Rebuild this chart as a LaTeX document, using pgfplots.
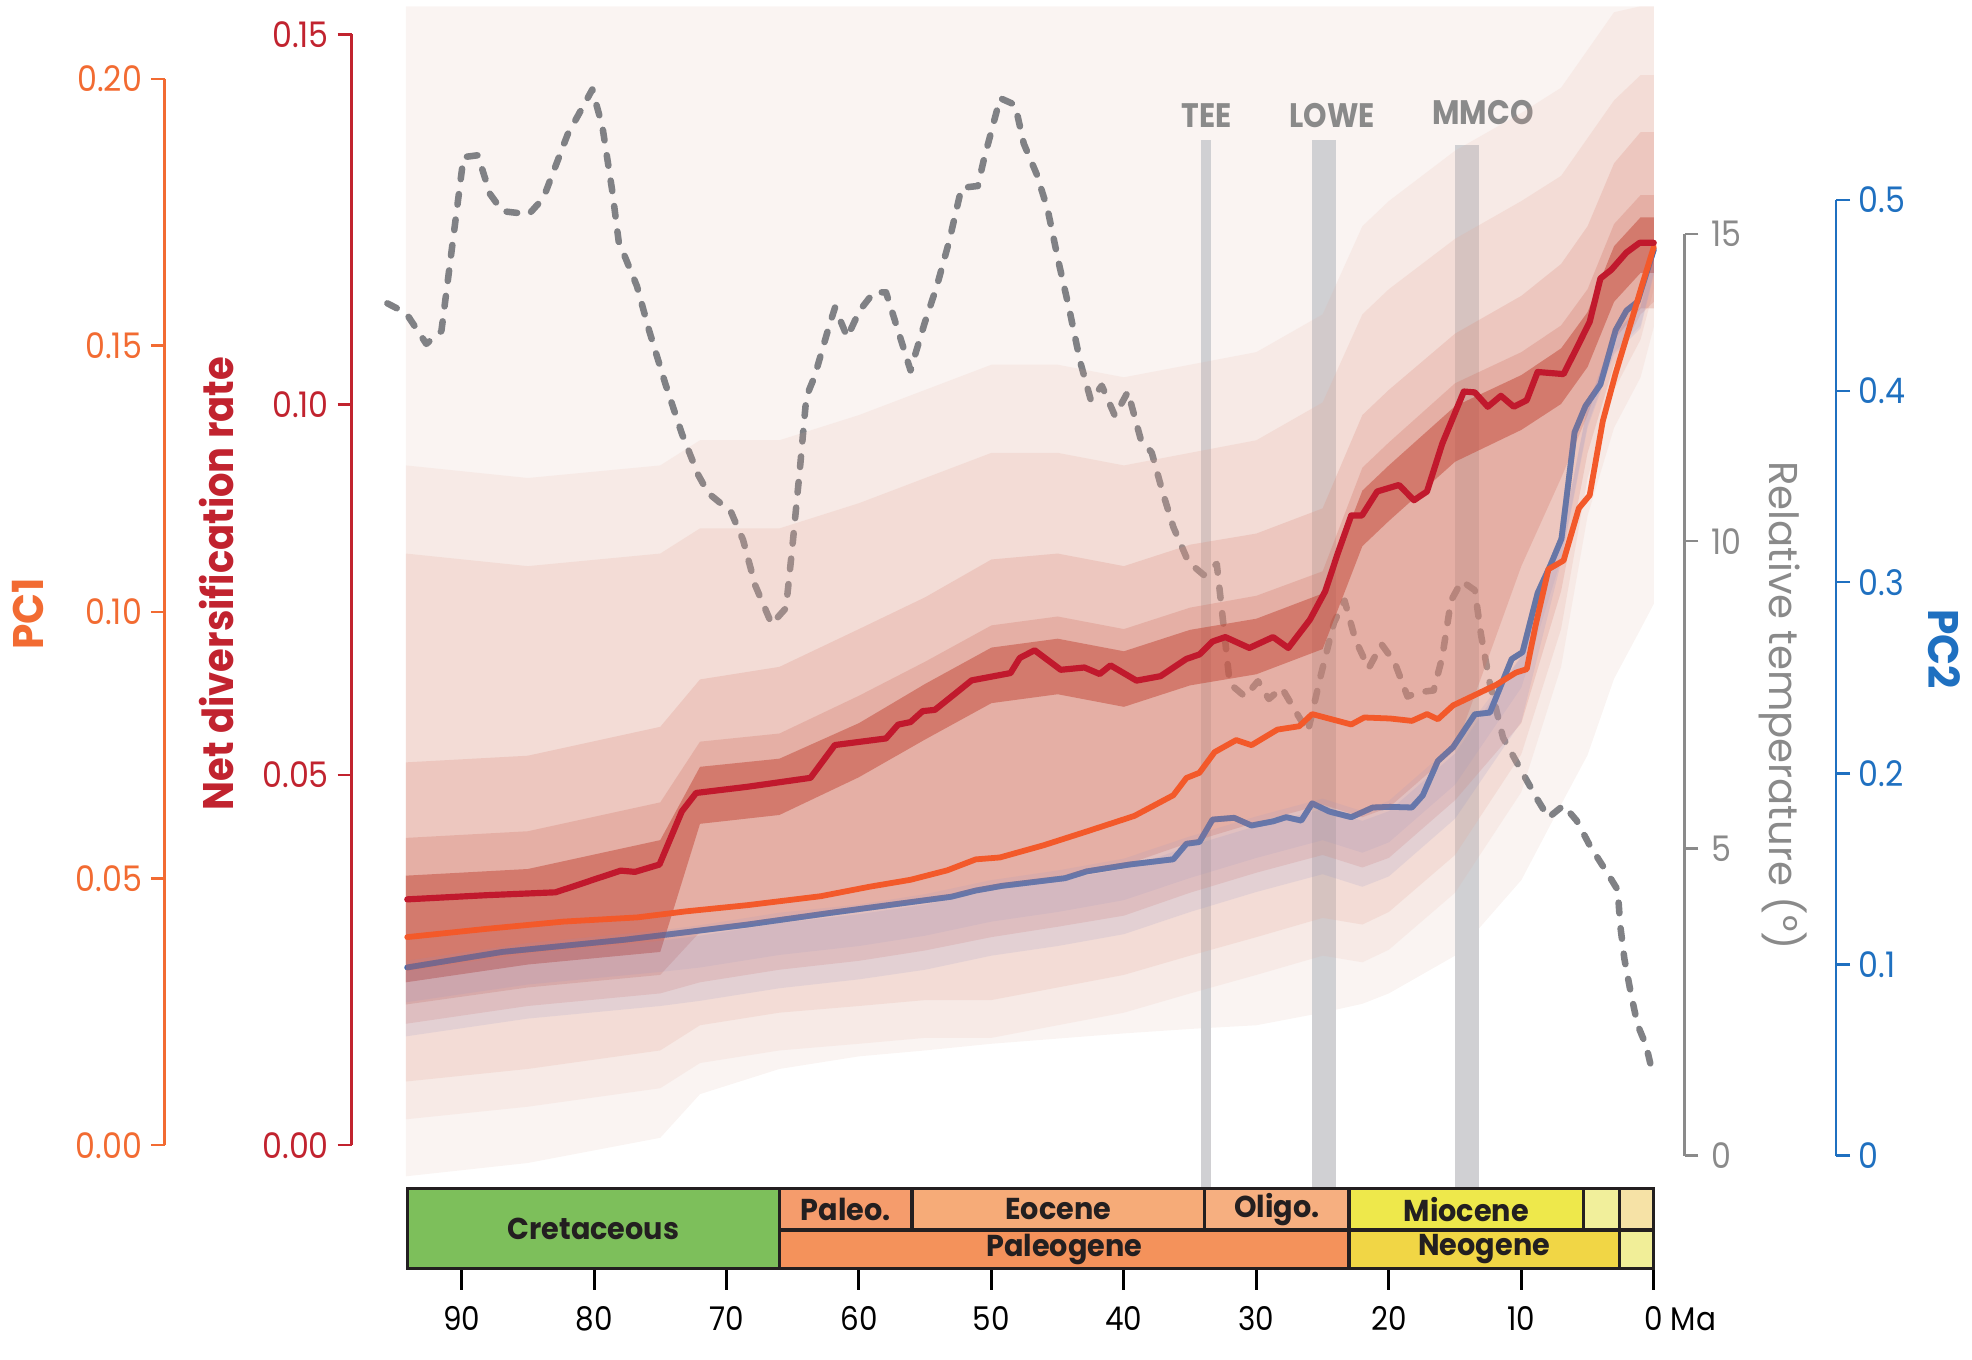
\documentclass[border=0pt]{standalone}
\usepackage{fontspec}
\setmainfont{Poppins}[FakeStretch=0.9]
\newfontfamily\titlefont{Poppins}[FakeStretch=0.95]
\newfontfamily\ndfont{Poppins}[FakeStretch=0.9]
\newfontfamily\tempfont{Poppins}
\newfontfamily\evfont{Poppins}[FakeStretch=0.88]
\newfontfamily\tlfont{Poppins}[FakeStretch=0.95]
\usepackage{pgfplots}
\pgfplotsset{compat=1.18}
\usepgfplotslibrary{fillbetween}
\usepackage{pgfplotstable}
\tikzset{fill between/on layer=main}

\definecolor{ndred}{HTML}{C1232F}
\definecolor{redline}{HTML}{C1192D}
\definecolor{pcone}{HTML}{F26B32}
\definecolor{orangeline}{HTML}{F3592A}
\definecolor{pctwo}{HTML}{1F70C0}
\definecolor{blueline}{HTML}{3C6AB2}
\definecolor{tempgray}{HTML}{8A8A8A}
\definecolor{templine}{HTML}{808185}
\definecolor{barc}{HTML}{D0D0D3}
\definecolor{bgpink}{HTML}{FAF4F2}
\definecolor{shA}{HTML}{E6A898}
\definecolor{shB}{HTML}{DC8C7C}
\definecolor{shC}{HTML}{D27464}
\definecolor{shD}{HTML}{C24636}
\definecolor{shE}{HTML}{8C90C8}
\definecolor{cret}{HTML}{7DBF5B}
\definecolor{paleoc}{HTML}{F59C6C}
\definecolor{eoc}{HTML}{F6AB78}
\definecolor{olig}{HTML}{F6AF80}
\definecolor{paleog}{HTML}{F4925B}
\definecolor{mioc}{HTML}{EEE84B}
\definecolor{plio}{HTML}{F1EF9B}
\definecolor{pleis}{HTML}{F6E2A6}
\definecolor{neog}{HTML}{F1D645}
\definecolor{quat}{HTML}{F1EE98}
\definecolor{tlborder}{HTML}{231F20}

% net diversification rate (red)
\pgfplotstableread{
ma v
94.1 0.0332
88.15 0.03376
82.92 0.03415
81.69 0.03487
79.84 0.03598
77.98 0.03708
76.91 0.03691
75.06 0.0379
73.37 0.04508
72.29 0.04757
68.43 0.0484
63.66 0.04961
61.82 0.05404
57.96 0.05493
57.04 0.0568
56.11 0.05714
55.19 0.05862
54.27 0.05879
53.03 0.06056
51.5 0.06277
48.56 0.06376
47.86 0.0658
46.74 0.06684
44.77 0.0642
42.98 0.06451
41.83 0.06363
41.01 0.0648
39.05 0.06274
37.24 0.06334
35.28 0.06567
34.3 0.06627
33.31 0.06802
32.34 0.06862
30.53 0.06715
28.74 0.06862
27.59 0.06715
25.96 0.07096
24.81 0.07478
23.83 0.08006
22.84 0.08504
22.03 0.08504
20.88 0.08828
19.24 0.08916
18.1 0.0871
17.12 0.08828
15.97 0.09473
14.34 0.10178
13.51 0.10166
12.53 0.09972
11.54 0.1012
10.57 0.09972
9.59 0.10061
8.77 0.10442
6.81 0.10413
5.82 0.10765
4.84 0.11118
4.03 0.11705
3.2 0.11823
2.06 0.12056
1.07 0.12186
0 0.12186
}\ndiv

% PC1 (orange)
\pgfplotstableread{
ma v
94.1 0.03903
88.15 0.04057
82.3 0.04194
76.76 0.04272
73.06 0.04386
68.43 0.04502
62.89 0.0467
59.2 0.04848
56.11 0.04978
53.34 0.05155
51.18 0.05361
49.36 0.05397
46.08 0.05624
42.81 0.05884
39.21 0.06176
36.27 0.06564
35.28 0.06888
34.3 0.06985
33.15 0.07373
31.52 0.07599
30.37 0.07503
28.41 0.07795
26.77 0.07858
25.79 0.08086
22.84 0.07891
21.86 0.08022
19.9 0.08003
18.26 0.07958
17.12 0.08086
16.3 0.07989
15.15 0.08249
13.51 0.08443
11.88 0.08637
10.41 0.08864
9.59 0.08928
8.93 0.0974
7.95 0.10803
6.81 0.10966
5.66 0.11946
4.84 0.1219
3.85 0.1358
2.88 0.14477
1.89 0.15291
0.91 0.1611
0 0.16844
}\pcone

% PC2 (blue)
\pgfplotstableread{
ma v
94.1 0.09841
86.92 0.10653
77.68 0.11292
73.06 0.11682
68.43 0.12084
62.28 0.12684
57.66 0.13113
53.03 0.13541
51.18 0.13865
49.2 0.1411
44.45 0.14511
42.81 0.14867
39.54 0.1523
36.27 0.15501
35.28 0.16312
34.3 0.16405
33.31 0.17579
31.68 0.17671
30.37 0.17269
28.74 0.17486
27.75 0.17704
26.61 0.17526
25.79 0.18429
24.48 0.17994
22.84 0.17704
21.21 0.18211
19.9 0.18244
18.26 0.18211
17.44 0.18844
16.3 0.20645
15.15 0.21371
13.51 0.23086
12.37 0.23178
10.73 0.25975
9.91 0.26338
8.77 0.29431
7.79 0.30909
6.97 0.32274
5.98 0.37848
5.16 0.39213
4.03 0.40348
2.88 0.4319
2.06 0.44213
1.23 0.44668
0 0.47398
}\pctwo

% relative temperature
\pgfplotstableread{
ma t
95.6 13.87
94.18 13.71
92.66 13.21
91.52 13.42
89.85 16.25
88.77 16.28
87.85 15.65
86.92 15.37
84.92 15.32
83.83 15.58
81.99 16.62
80.13 17.35
79.37 16.75
78.61 15.68
78.14 14.88
76.76 14.15
75.83 13.42
74.6 12.55
73.37 11.75
72.14 11.08
71.37 10.78
69.67 10.48
68.75 10.02
67.83 9.28
66.59 8.65
65.51 8.91
65.04 9.88
64.44 11.22
63.97 12.35
63.35 12.68
62.28 13.48
61.81 13.8
60.88 13.32
59.96 13.75
58.88 14.05
57.96 14.05
57.04 13.42
56.11 12.78
55.04 13.55
54.12 14.15
53.19 14.88
52.26 15.75
51.03 15.78
50.56 16.22
49.34 17.21
48.21 17.1
47.56 16.47
46.58 15.97
45.76 15.4
44.94 14.55
44.12 13.77
43.3 12.92
42.49 12.29
41.67 12.53
40.68 12.04
39.7 12.43
38.72 11.65
37.9 11.44
37.08 10.8
36.27 10.23
35.13 9.66
33.98 9.45
32.99 9.63
32.5 8.67
32.01 7.68
30.86 7.47
29.88 7.72
29.06 7.43
28.08 7.61
26.93 7.19
26.11 6.9
25.13 7.82
24.15 8.67
23.34 9.03
22.52 8.39
21.53 7.93
20.55 8.32
19.57 8.03
18.59 7.47
17.77 7.54
16.62 7.57
15.97 8.11
15.31 9.03
14.5 9.35
13.51 9.2
13.03 8.46
12.37 7.68
11.38 6.8
10.07 6.29
8.77 5.79
7.95 5.5
6.81 5.7
5.82 5.45
4.84 5.05
3.37 4.55
2.72 4.32
2.54 3.76
2.22 3.2
1.73 2.64
1.23 2.13
0.58 1.79
0.09 1.34
}\temp

% posterior shading envelopes (net diversification units)
\pgfplotstableread{
ma bgu bgd ou od au ad bu bd cu cd du dd eu ed fu fd
94.2 0.1538 -0.0042 0.0918 0.0035 0.0799 0.0086 0.0517 0.0164 0.0415 0.0190 0.0364 0.0220 0.0235 0.0147 0.0249 0.0193
85 0.1538 -0.0024 0.0901 0.0052 0.0782 0.0103 0.0526 0.0188 0.0424 0.0213 0.0373 0.0244 0.0259 0.0171 0.0273 0.0217
75 0.1538 0.0010 0.0918 0.0077 0.0799 0.0128 0.0565 0.0205 0.0463 0.0230 0.0412 0.0261 0.0276 0.0188 0.0290 0.0234
72 0.1538 0.0069 0.0952 0.0111 0.0833 0.0162 0.0629 0.0220 0.0545 0.0288 0.0511 0.0434 0.0283 0.0195 0.0297 0.0240
66 0.1538 0.0103 0.0952 0.0128 0.0833 0.0179 0.0646 0.0237 0.0556 0.0305 0.0522 0.0446 0.0300 0.0212 0.0314 0.0257
60 0.1538 0.0120 0.0986 0.0137 0.0867 0.0188 0.0697 0.0249 0.0607 0.0317 0.0570 0.0497 0.0312 0.0224 0.0325 0.0269
55 0.1538 0.0128 0.1020 0.0145 0.0901 0.0196 0.0740 0.0263 0.0653 0.0331 0.0623 0.0548 0.0325 0.0237 0.0339 0.0283
50 0.1538 0.0137 0.1054 0.0145 0.0935 0.0196 0.0791 0.0281 0.0702 0.0349 0.0672 0.0597 0.0344 0.0256 0.0358 0.0302
45 0.1538 0.0144 0.1054 0.0162 0.0935 0.0213 0.0799 0.0295 0.0714 0.0363 0.0684 0.0609 0.0358 0.0269 0.0371 0.0315
40 0.1538 0.0151 0.1037 0.0179 0.0918 0.0230 0.0782 0.0310 0.0697 0.0378 0.0667 0.0592 0.0373 0.0285 0.0387 0.0331
35 0.1538 0.0157 0.1054 0.0205 0.0935 0.0256 0.0811 0.0341 0.0726 0.0409 0.0696 0.0621 0.0404 0.0315 0.0417 0.0361
30 0.1538 0.0162 0.1071 0.0230 0.0952 0.0281 0.0826 0.0368 0.0742 0.0436 0.0711 0.0636 0.0431 0.0342 0.0444 0.0388
25 0.1538 0.0179 0.1122 0.0256 0.1003 0.0307 0.0860 0.0392 0.0775 0.0460 0.0745 0.0670 0.0454 0.0366 0.0468 0.0412
22 0.1538 0.0191 0.1241 0.0247 0.1122 0.0298 0.0986 0.0375 0.0915 0.0443 0.0884 0.0809 0.0438 0.0349 0.0451 0.0395
20 0.1538 0.0205 0.1275 0.0264 0.1156 0.0315 0.1020 0.0388 0.0949 0.0456 0.0918 0.0843 0.0451 0.0363 0.0465 0.0409
15 0.1538 0.0256 0.1343 0.0341 0.1224 0.0392 0.1096 0.0466 0.1029 0.0534 0.0998 0.0923 0.0529 0.0441 0.0543 0.0487
10 0.1538 0.0358 0.1394 0.0477 0.1275 0.0528 0.1147 0.0570 0.1071 0.0782 0.1040 0.0966 0.0660 0.0572 0.0660 0.0618
7 0.1538 0.0460 0.1428 0.0646 0.1309 0.0697 0.1190 0.0748 0.1107 0.0901 0.1076 0.1001 0.0816 0.0787 0.0816 0.0791
5 0.1538 0.0527 0.1479 0.0850 0.1360 0.0901 0.1241 0.0935 0.1156 0.0986 0.1125 0.1051 0.0998 0.0969 0.0998 0.0973
3 0.1538 0.0630 0.1530 0.0969 0.1411 0.1020 0.1326 0.1054 0.1244 0.1088 0.1214 0.1139 0.1096 0.1068 0.1096 0.1071
1 0.1538 0.0697 0.1538 0.1037 0.1445 0.1088 0.1368 0.1122 0.1283 0.1130 0.1253 0.1178 0.1132 0.1103 0.1132 0.1107
0 0.1538 0.0731 0.1538 0.1105 0.1445 0.1156 0.1368 0.1139 0.1283 0.1130 0.1253 0.1178 0.1203 0.1175 0.1203 0.1178
}\bands

\pgfplotsset{
  dax/.style={anchor=south west, scale only axis, width=505.6pt,
    xmin=0, xmax=96, x dir=reverse, hide axis, clip=false},
  ruler/.style={scale only axis, width=1pt, xmin=0, xmax=1,
    axis x line=none, tick align=outside, major tick length=5.5pt,
    minor tick num=0,
    major tick style={line width=1pt, color=#1},
    y axis line style={line width=1pt, color=#1, -},
    yticklabel style={text=#1, font=\fontsize{14}{14}\selectfont}},
}

\begin{document}
\begin{tikzpicture}
\path (0,0) rectangle (784pt,540.5pt);

% faint background
\begin{axis}[dax, at={(151.9pt,85.2pt)}, height=441.6pt, ymin=0, ymax=0.15]
\addplot[name path=bgu, draw=none] table[x=ma,y=bgu]{\bands};
\addplot[name path=bgd, draw=none] table[x=ma,y=bgd]{\bands};
\addplot[fill=bgpink, draw=none] fill between[of=bgu and bgd];
\end{axis}

% temperature, event bars
\begin{axis}[dax, at={(151.9pt,81.1pt)}, height=366.4pt, ymin=0, ymax=15]
\addplot[fill=barc, draw=none] coordinates {(34.2,-0.54) (34.2,16.53) (33.4,16.53) (33.4,-0.54)};
\addplot[fill=barc, draw=none] coordinates {(25.8,-0.54) (25.8,16.53) (24.0,16.53) (24.0,-0.54)};
\addplot[fill=barc, draw=none] coordinates {(15.0,-0.54) (15.0,16.45) (13.2,16.45) (13.2,-0.54)};
\addplot[templine, line width=2.6pt, line cap=round, line join=round,
  dash pattern=on 4.2pt off 6pt] table[x=ma,y=t]{\temp};
\node[font=\evfont\bfseries\fontsize{13.5}{13.5}\selectfont, text=tempgray] at (axis cs:33.74,16.93) {TEE};
\node[font=\evfont\bfseries\fontsize{13.5}{13.5}\selectfont, text=tempgray] at (axis cs:24.29,16.93) {LOWE};
\node[font=\evfont\bfseries\fontsize{13.5}{13.5}\selectfont, text=tempgray] at (axis cs:12.89,16.97) {MMCO};
\end{axis}

% PC2 line (beneath the shading)
\begin{axis}[dax, at={(151.9pt,81.1pt)}, height=379.9pt, ymin=0, ymax=0.5]
\addplot[blueline, line width=2.3pt, line cap=round, line join=round] table[x=ma,y=v]{\pctwo};
\end{axis}

% shading
\begin{axis}[dax, at={(151.9pt,85.2pt)}, height=441.6pt, ymin=0, ymax=0.15]
\addplot[name path=o1, draw=none] table[x=ma,y=ou]{\bands};
\addplot[name path=o2, draw=none] table[x=ma,y=od]{\bands};
\addplot[fill=shA, fill opacity=0.13, draw=none] fill between[of=o1 and o2];
\addplot[name path=a1, draw=none] table[x=ma,y=au]{\bands};
\addplot[name path=a2, draw=none] table[x=ma,y=ad]{\bands};
\addplot[fill=shA, fill opacity=0.2, draw=none] fill between[of=a1 and a2];
\addplot[name path=b1, draw=none] table[x=ma,y=bu]{\bands};
\addplot[name path=b2, draw=none] table[x=ma,y=bd]{\bands};
\addplot[fill=shB, fill opacity=0.25, draw=none] fill between[of=b1 and b2];
\addplot[name path=c1, draw=none] table[x=ma,y=cu]{\bands};
\addplot[name path=c2, draw=none] table[x=ma,y=cd]{\bands};
\addplot[fill=shC, fill opacity=0.28, draw=none] fill between[of=c1 and c2];
\addplot[name path=d1, draw=none] table[x=ma,y=du]{\bands};
\addplot[name path=d2, draw=none] table[x=ma,y=dd]{\bands};
\addplot[fill=shD, fill opacity=0.5, draw=none] fill between[of=d1 and d2];
\addplot[name path=e1, draw=none] table[x=ma,y=eu]{\bands};
\addplot[name path=e2, draw=none] table[x=ma,y=ed]{\bands};
\addplot[name path=f1, draw=none] table[x=ma,y=fu]{\bands};
\addplot[name path=f2, draw=none] table[x=ma,y=fd]{\bands};
\addplot[fill=shE, fill opacity=0.15, draw=none] fill between[of=e1 and e2];
\addplot[fill=shE, fill opacity=0.12, draw=none] fill between[of=f1 and f2];
\end{axis}

% PC2 line (tint above the shading)
\begin{axis}[dax, at={(151.9pt,81.1pt)}, height=379.9pt, ymin=0, ymax=0.5]
\addplot[blueline, line width=2.3pt, line cap=round, line join=round, opacity=0.45] table[x=ma,y=v]{\pctwo};
\end{axis}

% PC1 line
\begin{axis}[dax, at={(151.9pt,85.2pt)}, height=423.95pt, ymin=0, ymax=0.2]
\addplot[orangeline, line width=2.3pt, line cap=round, line join=round] table[x=ma,y=v]{\pcone};
\end{axis}

% net diversification line
\begin{axis}[dax, at={(151.9pt,85.2pt)}, height=441.6pt, ymin=0, ymax=0.15]
\addplot[redline, line width=2.45pt, line cap=round, line join=round] table[x=ma,y=v]{\ndiv};
\end{axis}

% rulers
\begin{axis}[ruler=pcone, at={(65.5pt,85.2pt)}, anchor=south west, height=423.95pt,
  ymin=0, ymax=0.2, axis y line*=left,
  ytick={0,0.05,0.1,0.15,0.2}, yticklabels={0.00,0.05,0.10,0.15,0.20}]
\addplot[draw=none] coordinates {(0,0)};
\end{axis}
\begin{axis}[ruler=ndred, at={(139.75pt,85.2pt)}, anchor=south west, height=441.6pt,
  ymin=0, ymax=0.15, axis y line*=left,
  ytick={0,0.05,0.1,0.15}, yticklabels={0.00,0.05,0.10,0.15}]
\addplot[draw=none] coordinates {(0,0)};
\end{axis}
\begin{axis}[ruler=tempgray, at={(669.75pt,81.1pt)}, anchor=south east, height=366.4pt,
  ymin=0, ymax=15, axis y line*=right,
  ytick={0,5,10,15}, yticklabels={0,5,10,15},
  yticklabel style={xshift=1.5pt}]
\addplot[draw=none] coordinates {(0,0)};
\end{axis}
\begin{axis}[ruler=pctwo, at={(730pt,81.1pt)}, anchor=south east, height=379.9pt,
  ymin=0, ymax=0.5, axis y line*=right,
  ytick={0,0.1,0.2,0.3,0.4,0.5}, yticklabels={0,0.1,0.2,0.3,0.4,0.5}]
\addplot[draw=none] coordinates {(0,0)};
\end{axis}

% timeline
\begin{axis}[at={(151.9pt,36.25pt)}, anchor=south west, scale only axis,
  width=505.6pt, height=31.75pt, xmin=0, xmax=96, x dir=reverse, ymin=0, ymax=2,
  clip=false, hide y axis, axis x line*=bottom, x axis line style={draw=none},
  xtick={0,10,20,30,40,50,60,70,80,90},
  xticklabels={0\rlap{ Ma},10,20,30,40,50,60,70,80,90},
  tick align=outside, major tick length=8.5pt, minor tick num=0,
  major tick style={line width=1.2pt, color=black},
  xticklabel style={font=\fontsize{13}{13}\selectfont, text=black, yshift=-3pt}]
\addplot[draw=none] coordinates {(50,1)};
\begin{scope}[line width=1.3pt, draw=tlborder]
\draw[fill=cret] (axis cs:94.1,0) rectangle (axis cs:66,2);
\draw[fill=paleog] (axis cs:66,0) rectangle (axis cs:23,0.96);
\draw[fill=paleoc] (axis cs:66,0.96) rectangle (axis cs:56,2);
\draw[fill=eoc] (axis cs:56,0.96) rectangle (axis cs:33.9,2);
\draw[fill=olig] (axis cs:33.9,0.96) rectangle (axis cs:23,2);
\draw[fill=mioc] (axis cs:23,0.96) rectangle (axis cs:5.3,2);
\draw[fill=plio] (axis cs:5.3,0.96) rectangle (axis cs:2.6,2);
\draw[fill=pleis] (axis cs:2.6,0.96) rectangle (axis cs:0,2);
\draw[fill=neog] (axis cs:23,0) rectangle (axis cs:2.6,0.96);
\draw[fill=quat] (axis cs:2.6,0) rectangle (axis cs:0,0.96);
\end{scope}
\begin{scope}[font=\tlfont\bfseries\fontsize{12}{12}\selectfont, text=tlborder]
\node at (axis cs:80.05,1) {Cretaceous};
\node at (axis cs:61,1.48) {Paleo.};
\node at (axis cs:44.95,1.48) {Eocene};
\node at (axis cs:28.45,1.48) {Oligo.};
\node at (axis cs:14.15,1.48) {Miocene};
\node at (axis cs:44.5,0.48) {Paleogene};
\node at (axis cs:12.8,0.48) {Neogene};
\end{scope}
\end{axis}

% axis titles
\node[rotate=90, font=\titlefont\bfseries\fontsize{17}{17}\selectfont, text=pcone] at (11.25pt,296.5pt) {PC1};
\node[rotate=90, font=\ndfont\bfseries\fontsize{17}{17}\selectfont, text=ndred] at (86pt,308.5pt) {Net diversification rate};
\node[rotate=-90, font=\tempfont\fontsize{16}{16}\selectfont, text=tempgray] at (709pt,260pt) {Relative temperature (°)};
\node[rotate=-90, font=\titlefont\bfseries\fontsize{17}{17}\selectfont, text=pctwo] at (773pt,282.5pt) {PC2};
\end{tikzpicture}
\end{document}
